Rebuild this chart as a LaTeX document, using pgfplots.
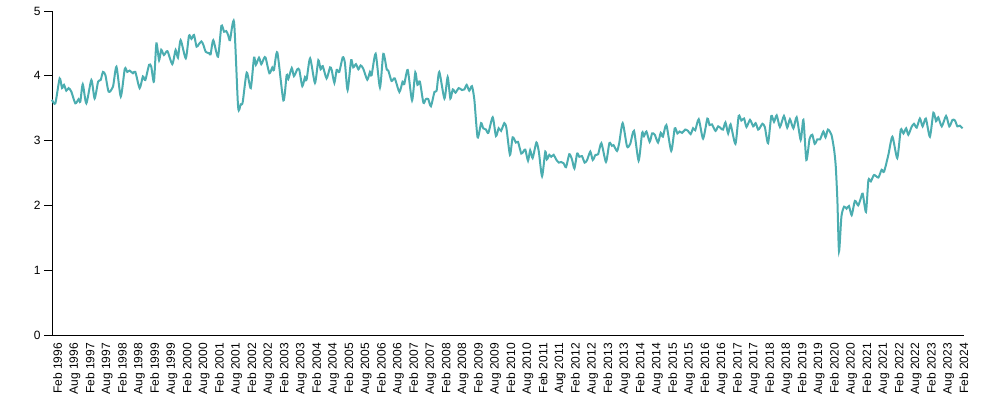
\documentclass[border=0pt]{standalone}
\usepackage{pgfplots}
\pgfplotsset{compat=1.18}
\usepackage{fontspec}
\setmainfont{Liberation Sans}
\definecolor{teal1}{HTML}{4BADB0}
\begin{document}
\begin{tikzpicture}
\useasboundingbox (0,0) rectangle (988pt,417pt);
\begin{axis}[
 at={(52pt,82pt)}, anchor=south west,
 scale only axis, width=911.6pt, height=324pt,
 xmin=0, xmax=338, ymin=0, ymax=5,
 axis x line*=bottom, axis y line*=left,
 axis line style={black, line width=0.9pt, -},
 xtick={0,6,...,336},
 xticklabels={Feb 1996,Aug 1996,Feb 1997,Aug 1997,Feb 1998,Aug 1998,Feb 1999,Aug 1999,Feb 2000,Aug 2000,Feb 2001,Aug 2001,Feb 2002,Aug 2002,Feb 2003,Aug 2003,Feb 2004,Aug 2004,Feb 2005,Aug 2005,Feb 2006,Aug 2006,Feb 2007,Aug 2007,Feb 2008,Aug 2008,Feb 2009,Aug 2009,Feb 2010,Aug 2010,Feb 2011,Aug 2011,Feb 2012,Aug 2012,Feb 2013,Aug 2013,Feb 2014,Aug 2014,Feb 2015,Aug 2015,Feb 2016,Aug 2016,Feb 2017,Aug 2017,Feb 2018,Aug 2018,Feb 2019,Aug 2019,Feb 2020,Aug 2020,Feb 2021,Aug 2021,Feb 2022,Aug 2022,Feb 2023,Aug 2023,Feb 2024},
 ytick={0,1,2,3,4,5},
 tick align=outside,
 major tick length=8pt,
 x tick style={draw=none},
 y tick style={black, line width=0.9pt},
 tick label style={font=\fontsize{12}{14}\selectfont},
 xticklabel style={rotate=90, anchor=north east, inner xsep=0pt, inner ysep=1pt},
 /pgf/number format/assume math mode=true,
 clip=false,
]
\addplot[teal1, line width=2pt, smooth, tension=0.4] coordinates {
(0,3.63)(1.24,3.575)(2.84,3.96)(3.71,3.81)(4.45,3.86)(5.31,3.77)(6.17,3.81)(7.17,3.755)(8.65,3.575)(9.88,3.64)(10.5,3.6)(11.4,3.87)(12.73,3.575)(14.6,3.935)(15.8,3.65)(17.1,3.91)(18.05,3.935)(18.9,4.06)(19.8,4.01)(21.0,3.755)(22.6,3.83)(23.9,4.14)(25.5,3.68)(27.0,4.11)(27.9,4.06)(28.8,4.08)(30.0,4.04)(30.9,4.06)(32.5,3.81)(33.7,3.99)(34.6,3.935)(36.0,4.17)(36.8,4.14)(37.8,3.91)(38.7,4.5)(39.7,4.24)(40.5,4.4)(41.5,4.32)
(42.8,4.38)(44.6,4.18)(45.85,4.40)(46.7,4.28)(47.7,4.55)(49.6,4.27)(50.8,4.62)(51.7,4.57)(52.65,4.63)(53.6,4.45)(54.5,4.49)(55.4,4.53)(56.1,4.48)(57.0,4.37)(58.2,4.35)(58.8,4.33)(59.8,4.55)(61.55,4.295)(62.8,4.77)(63.8,4.68)(64.6,4.69)(65.3,4.63)(66.0,4.55)(67.5,4.83)(69.0,3.52)(69.95,3.56)(70.7,3.59)(72.2,4.05)(73.7,3.81)(74.9,4.28)(75.6,4.17)(76.75,4.28)(77.6,4.18)(78.6,4.27)(79.2,4.28)(80.6,4.04)(81.7,4.13)(82.3,4.09)(83.55,4.36)
(85.8,3.62)(87.0,4.01)(87.6,3.95)(88.9,4.12)(89.7,3.995)(90.96,4.10)(91.7,4.09)(92.8,3.84)(93.8,3.98)(94.4,3.94)(95.7,4.27)(97.5,3.89)(98.75,4.24)(99.6,4.10)(100.4,4.15)(101.8,3.96)(103.1,4.13)(103.7,4.09)(104.7,3.89)(105.55,4.09)(106.5,4.06)(107.8,4.285)(108.6,4.20)(109.6,3.78)(110.9,4.24)(111.7,4.13)(112.7,4.18)(113.6,4.10)(114.45,4.16)(115.4,4.11)(116.9,3.94)(117.9,4.06)(118.5,4.01)(120.0,4.34)(121.6,3.82)(122.85,4.34)(124.1,4.10)(124.7,4.08)(125.9,3.92)(127.1,3.96)(128.8,3.75)
(130.0,3.91)(130.6,3.87)(131.9,4.09)(133.5,3.62)(134.7,4.05)(135.5,3.86)(136.4,3.91)(137.7,3.585)(138.6,3.64)(139.5,3.64)(140.5,3.53)(141.8,3.75)(142.6,3.77)(143.6,4.06)(145.5,3.65)(146.7,3.98)(147.7,3.65)(148.6,3.79)(149.6,3.74)(150.8,3.81)(152.0,3.78)(152.9,3.79)(153.75,3.86)(154.7,3.77)(155.7,3.84)(156.6,3.63)(157.8,3.05)(159.1,3.27)(159.9,3.19)(160.9,3.17)(161.8,3.12)(163.4,3.36)(164.6,3.07)(165.6,3.19)(166.5,3.15)(167.7,3.27)(168.5,3.19)(169.8,2.78)(170.8,3.05)
(172.0,2.97)(172.8,2.98)(174.0,2.80)(174.9,2.84)(175.5,2.86)(176.5,2.69)(177.3,2.85)(178.2,2.73)(179.6,2.97)(180.5,2.83)(181.7,2.45)(182.9,2.83)(183.5,2.71)(184.4,2.78)(185.1,2.75)(186.0,2.78)(186.9,2.71)(187.9,2.66)(188.8,2.67)(189.7,2.65)(190.6,2.59)(191.8,2.79)(192.8,2.71)(193.7,2.57)(194.7,2.80)(195.5,2.75)(196.5,2.76)(197.5,2.66)(198.4,2.70)(199.6,2.83)(200.5,2.70)(201.5,2.78)(202.5,2.79)(203.7,2.96)(205.4,2.67)(206.65,2.96)(207.6,2.92)(208.2,2.93)(209.5,2.84)(210.3,2.96)(211.6,3.27)(213.2,2.91)
(214.4,2.95)(215.8,3.15)(217.5,2.69)(218.8,3.12)(219.5,3.07)(220.4,3.14)(221.6,2.98)(222.5,3.11)(223.5,3.09)(224.7,2.97)(225.7,3.12)(226.5,3.06)(227.8,3.24)(229.6,2.84)(230.9,3.19)(231.9,3.11)(232.7,3.14)(233.6,3.12)(234.8,3.17)(235.8,3.15)(236.8,3.10)(237.7,3.19)(238.5,3.16)(239.8,3.33)(241.4,3.03)(243.0,3.34)(243.8,3.24)(244.7,3.25)(246.0,3.15)(247.0,3.22)(248.0,3.19)(248.8,3.17)(249.7,3.28)(250.7,3.11)(251.6,3.25)(253.4,2.95)(254.6,3.38)(255.6,3.31)(256.6,3.34)
(257.5,3.21)(258.8,3.32)(260.0,3.22)(260.9,3.27)(261.8,3.17)(262.5,3.20)(263.4,3.26)(264.3,3.21)(265.5,2.96)(266.7,3.38)(267.7,3.29)(268.7,3.39)(269.9,3.21)(271.4,3.38)(272.6,3.20)(273.6,3.33)(274.9,3.19)(276.1,3.36)(277.6,3.01)(278.6,3.32)(279.7,2.70)(280.9,3.03)(281.9,3.09)(282.8,2.95)(283.8,3.02)(284.8,3.02)(286.0,3.14)(286.8,3.05)(287.7,3.17)(289.0,3.09)(290.0,2.855)(290.6,2.60)(291.2,2.08)(291.8,1.29)(292.7,1.83)(293.7,1.98)(294.6,1.95)(295.5,1.99)(296.5,1.85)(297.7,2.07)(298.9,2.00)(299.8,2.10)(300.6,2.18)(301.8,1.9)
(302.7,2.39)(303.6,2.37)(304.8,2.47)(306.4,2.43)(307.6,2.55)(308.5,2.52)(310.1,2.78)(311.6,3.06)(313.4,2.73)(314.7,3.17)(315.7,3.11)(316.7,3.19)(317.5,3.09)(318.7,3.21)(319.6,3.26)(320.6,3.20)(321.8,3.34)(322.8,3.22)(324.0,3.34)(325.5,3.06)(326.8,3.43)(327.8,3.30)(328.6,3.36)(329.9,3.22)(331.5,3.38)(332.7,3.22)(333.9,3.32)(334.8,3.31)(335.7,3.22)(336.6,3.23)(337.6,3.19)
};
\end{axis}
\end{tikzpicture}
\end{document}
